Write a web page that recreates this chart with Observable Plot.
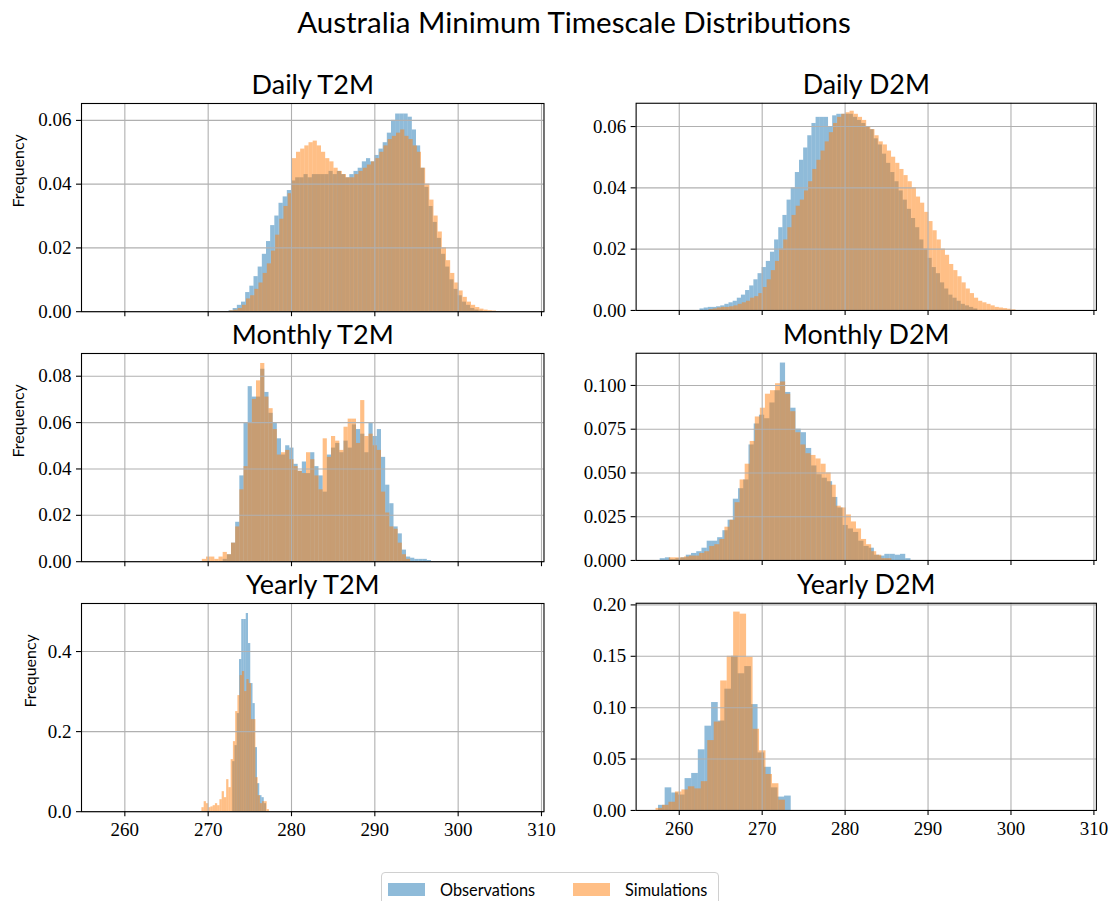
<!DOCTYPE html>
<html>
<head>
<meta charset="utf-8">
<script src="https://cdn.jsdelivr.net/npm/d3@7"></script>
<script src="https://cdn.jsdelivr.net/npm/@observablehq/plot@0.6"></script>
<style>
  html, body { margin: 0; padding: 0; background: #fff; }
  body { width: 1116px; height: 901px; position: relative; overflow: hidden; }
  .panel { position: absolute; }
  #title {
    position: absolute; left: 16px; top: 4px; width: 1116px; text-align: center;
    font-family: Lato, "DejaVu Sans", sans-serif; font-size: 29.5px; color: #000;
  }
  #legend {
    position: absolute; left: 381px; top: 872px; width: 336px; height: 36px;
    border: 1px solid #d0d0d0; border-radius: 4px; background: #fff;
    font-family: Lato, "DejaVu Sans", sans-serif; font-size: 16.3px; color: #000;
  }
  .item { position: absolute; top: 6px; height: 20px; display: flex; align-items: center; }
  .swatch { width: 37px; height: 13px; margin-right: 15px; }
</style>
</head>
<body>
<div id="title">Australia Minimum Timescale Distributions</div>
<div id="legend">
  <div class="item" style="left:6px"><span class="swatch" style="background:rgba(31,119,180,0.5)"></span>Observations</div>
  <div class="item" style="left:191px"><span class="swatch" style="background:rgba(255,127,14,0.5)"></span>Simulations</div>
</div>
<script>
// Histogram bins: each series is a left edge, a bin width and the frequency per bin.

// Daily T2M
const dailyT2mObsStart = 272.5, dailyT2mObsWidth = 0.5;
const dailyT2mObs = [
  0.0003, 0.001, 0.002, 0.003, 0.006, 0.008, 0.011, 0.014, 0.018, 0.022,
  0.027, 0.030, 0.034, 0.036, 0.038, 0.041, 0.042, 0.042, 0.043, 0.042,
  0.043, 0.043, 0.043, 0.043, 0.044, 0.043, 0.044, 0.043, 0.042, 0.043,
  0.044, 0.045, 0.047, 0.048, 0.047, 0.049, 0.051, 0.053, 0.056, 0.060,
  0.062, 0.062, 0.062, 0.061, 0.057, 0.052, 0.045, 0.039, 0.033, 0.028,
  0.023, 0.018, 0.014, 0.010, 0.007, 0.005, 0.003, 0.002, 0.001, 0.0005,
  0.0002
];
const dailyT2mSimStart = 272.6, dailyT2mSimWidth = 0.5;
const dailyT2mSim = [
  0.0003, 0.0005, 0.001, 0.002, 0.004, 0.005, 0.007, 0.009, 0.012, 0.015,
  0.019, 0.024, 0.029, 0.033, 0.037, 0.048, 0.050, 0.051, 0.052, 0.053,
  0.0535, 0.052, 0.050, 0.048, 0.047, 0.045, 0.044, 0.043, 0.042, 0.042,
  0.043, 0.044, 0.045, 0.046, 0.047, 0.048, 0.050, 0.052, 0.054, 0.055,
  0.056, 0.057, 0.055, 0.054, 0.052, 0.050, 0.045, 0.040, 0.035, 0.030,
  0.025, 0.020, 0.016, 0.012, 0.009, 0.0065, 0.0045, 0.003, 0.002, 0.0013,
  0.0008, 0.0005, 0.0003, 0.0002
];

// Daily D2M
const dailyD2mObsStart = 262.5, dailyD2mObsWidth = 0.5;
const dailyD2mObs = [
  0.0005, 0.0008, 0.001, 0.001, 0.0012, 0.0015, 0.002, 0.0025, 0.003, 0.004,
  0.005, 0.0065, 0.008, 0.010, 0.012, 0.014, 0.016, 0.019, 0.023, 0.027,
  0.031, 0.036, 0.040, 0.045, 0.049, 0.053, 0.057, 0.061, 0.063, 0.063,
  0.063, 0.060, 0.0635, 0.064, 0.064, 0.064, 0.064, 0.063, 0.062, 0.061,
  0.060, 0.059, 0.056, 0.054, 0.051, 0.048, 0.045, 0.042, 0.039, 0.036,
  0.033, 0.030, 0.027, 0.023, 0.020, 0.017, 0.014, 0.012, 0.009, 0.007,
  0.005, 0.004, 0.003, 0.002, 0.0015, 0.001, 0.0005
];
const dailyD2mSimStart = 263.6, dailyD2mSimWidth = 0.5;
const dailyD2mSim = [
  0.0003, 0.0005, 0.0008, 0.001, 0.001, 0.0012, 0.0015, 0.002, 0.0025, 0.003,
  0.004, 0.0045, 0.0055, 0.0075, 0.010, 0.013, 0.016, 0.020, 0.023, 0.027,
  0.031, 0.034, 0.036, 0.039, 0.042, 0.046, 0.049, 0.052, 0.055, 0.058,
  0.061, 0.063, 0.064, 0.0645, 0.065, 0.064, 0.063, 0.062, 0.060, 0.059,
  0.057, 0.055, 0.054, 0.052, 0.050, 0.048, 0.046, 0.044, 0.042, 0.040,
  0.037, 0.035, 0.032, 0.029, 0.026, 0.023, 0.020, 0.018, 0.015, 0.013,
  0.011, 0.009, 0.007, 0.0055, 0.004, 0.003, 0.0025, 0.002, 0.0015, 0.001,
  0.0008, 0.0006, 0.0004, 0.0002
];

// Monthly T2M
const monthlyT2mObsStart = 271.8, monthlyT2mObsWidth = 0.5;
const monthlyT2mObs = [
  0.001, 0.003, 0.008, 0.017, 0.037, 0.060, 0.0755, 0.071, 0.071, 0.083,
  0.073, 0.064, 0.060, 0.053, 0.046, 0.050, 0.049, 0.042, 0.039, 0.043,
  0.038, 0.047, 0.041, 0.037, 0.030, 0.046, 0.049, 0.051, 0.047, 0.052,
  0.049, 0.059, 0.057, 0.055, 0.047, 0.060, 0.054, 0.057, 0.045, 0.033,
  0.025, 0.015, 0.012, 0.005, 0.002, 0.0015, 0.001, 0.001, 0.001, 0.0005
];
const monthlyT2mSimStart = 269.3, monthlyT2mSimWidth = 0.5;
const monthlyT2mSim = [
  0.001, 0.002, 0.002, 0.001, 0.002, 0.004, 0.003, 0.008, 0.015, 0.031,
  0.041, 0.060, 0.070, 0.078, 0.0855, 0.071, 0.066, 0.057, 0.046, 0.047,
  0.048, 0.044, 0.041, 0.039, 0.038, 0.047, 0.044, 0.037, 0.031, 0.053,
  0.045, 0.054, 0.052, 0.048, 0.058, 0.0615, 0.0615, 0.051, 0.0695, 0.054,
  0.055, 0.050, 0.048, 0.030, 0.021, 0.015, 0.014, 0.008, 0.003, 0.001
];

// Monthly D2M
const monthlyD2mObsStart = 257.7, monthlyD2mObsWidth = 0.63;
const monthlyD2mObs = [
  0.001, 0.0015, 0.0005, 0.001, 0.0015, 0.003, 0.004, 0.005, 0.007, 0.011,
  0.011, 0.013, 0.017, 0.023, 0.035, 0.041, 0.046, 0.066, 0.078, 0.083,
  0.081, 0.090, 0.097, 0.1128, 0.096, 0.087, 0.075, 0.073, 0.064, 0.054,
  0.049, 0.047, 0.045, 0.036, 0.030, 0.020, 0.018, 0.016, 0.011, 0.008,
  0.007, 0.003, 0.0025, 0.0035, 0.0035, 0.003, 0.0035, 0.001
];
const monthlyD2mSimStart = 258.8, monthlyD2mSimWidth = 0.61;
const monthlyD2mSim = [
  0.0015, 0.0015, 0.0015, 0.002, 0.0025, 0.0025, 0.004, 0.005, 0.008, 0.009,
  0.012, 0.019, 0.023, 0.033, 0.046, 0.055, 0.068, 0.082, 0.087, 0.095,
  0.097, 0.101, 0.102, 0.095, 0.085, 0.073, 0.066, 0.061, 0.060, 0.058,
  0.055, 0.050, 0.043, 0.031, 0.030, 0.026, 0.022, 0.018, 0.012, 0.009,
  0.005, 0.003, 0.001, 0.001
];

// Yearly T2M
const yearlyT2mObsStart = 272.95, yearlyT2mObsWidth = 0.27;
const yearlyT2mObs = [
  0.125, 0.165, 0.245, 0.38, 0.48, 0.48, 0.495, 0.42, 0.32, 0.27,
  0.16, 0.07, 0.04, 0.035, 0.02
];
const yearlyT2mSimStart = 269.25, yearlyT2mSimWidth = 0.27;
const yearlyT2mSim = [
  0.01, 0.025, 0.02, 0.01, 0.012, 0.015, 0.02, 0.015, 0.03, 0.05,
  0.035, 0.08, 0.06, 0.13, 0.175, 0.25, 0.29, 0.34, 0.35, 0.30,
  0.33, 0.32, 0.23, 0.23, 0.085, 0.04, 0.02, 0.025, 0.025, 0.005
];

// Yearly D2M
const yearlyD2mObsStart = 257.5, yearlyD2mObsWidth = 0.8;
const yearlyD2mObs = [
  0.005, 0.022, 0.017, 0.015, 0.031, 0.036, 0.059, 0.082, 0.105, 0.087,
  0.118, 0.150, 0.133, 0.140, 0.103, 0.056, 0.042, 0.022, 0.013, 0.014
];
const yearlyD2mSimStart = 257.2, yearlyD2mSimWidth = 0.78;
const yearlyD2mSim = [
  0.002, 0.005, 0.008, 0.018, 0.020, 0.023, 0.021, 0.028, 0.068, 0.086,
  0.126, 0.150, 0.193, 0.191, 0.149, 0.079, 0.058, 0.035, 0.026, 0.010
];

// Axis ticks
const xTicks = [260, 270, 280, 290, 300, 310];
const xDomain = [254.8, 310.3];

function toBins(start, width, values) {
  return values.map((v, i) => ({x1: start + i * width, x2: start + (i + 1) * width, y: v}));
}

const SERIF = "'Liberation Serif', 'DejaVu Serif', serif";
const SANS = "Lato, 'DejaVu Sans', sans-serif";
const M = {top: 50, right: 20, bottom: 40, left: 80};
const FRAME_W = 462.5, FRAME_H = 208.2;
const colLeft = [80.7, 636.2];
const rowTop = [102.5, 352.6, 602.6];

const panels = [
  {title: "Daily T2M", row: 0, col: 0, obs: toBins(dailyT2mObsStart, dailyT2mObsWidth, dailyT2mObs),
   sim: toBins(dailyT2mSimStart, dailyT2mSimWidth, dailyT2mSim), yMax: 0.0653,
   yTicks: [0, 0.02, 0.04, 0.06], fmt: d3.format(".2f"), ylabelDx: -63},
  {title: "Daily D2M", row: 0, col: 1, obs: toBins(dailyD2mObsStart, dailyD2mObsWidth, dailyD2mObs),
   sim: toBins(dailyD2mSimStart, dailyD2mSimWidth, dailyD2mSim), yMax: 0.0676,
   yTicks: [0, 0.02, 0.04, 0.06], fmt: d3.format(".2f")},
  {title: "Monthly T2M", row: 1, col: 0, obs: toBins(monthlyT2mObsStart, monthlyT2mObsWidth, monthlyT2mObs),
   sim: toBins(monthlyT2mSimStart, monthlyT2mSimWidth, monthlyT2mSim), yMax: 0.0898,
   yTicks: [0, 0.02, 0.04, 0.06, 0.08], fmt: d3.format(".2f"), ylabelDx: -63},
  {title: "Monthly D2M", row: 1, col: 1, obs: toBins(monthlyD2mObsStart, monthlyD2mObsWidth, monthlyD2mObs),
   sim: toBins(monthlyD2mSimStart, monthlyD2mSimWidth, monthlyD2mSim), yMax: 0.1184,
   yTicks: [0, 0.025, 0.05, 0.075, 0.1], fmt: d3.format(".3f")},
  {title: "Yearly T2M", row: 2, col: 0, obs: toBins(yearlyT2mObsStart, yearlyT2mObsWidth, yearlyT2mObs),
   sim: toBins(yearlyT2mSimStart, yearlyT2mSimWidth, yearlyT2mSim), yMax: 0.52,
   yTicks: [0, 0.2, 0.4], fmt: d3.format(".1f"), ylabelDx: -51},
  {title: "Yearly D2M", row: 2, col: 1, obs: toBins(yearlyD2mObsStart, yearlyD2mObsWidth, yearlyD2mObs),
   sim: toBins(yearlyD2mSimStart, yearlyD2mSimWidth, yearlyD2mSim), yMax: 0.2016,
   yTicks: [0, 0.05, 0.1, 0.15, 0.2], fmt: d3.format(".2f")}
];

for (const p of panels) {
  const showX = p.row === 2;
  const chart = Plot.plot({
    width: M.left + FRAME_W + M.right,
    height: M.top + FRAME_H + M.bottom,
    marginTop: M.top, marginRight: M.right, marginBottom: M.bottom, marginLeft: M.left,
    x: {domain: xDomain},
    y: {domain: [0, p.yMax]},
    style: {fontFamily: SERIF, fontSize: "19px", color: "#000", background: "transparent", overflow: "visible"},
    marks: [
      Plot.rect(p.obs, {x1: "x1", x2: "x2", y1: 0, y2: "y", fill: "#1f77b4", fillOpacity: 0.5, inset: 0}),
      Plot.rect(p.sim, {x1: "x1", x2: "x2", y1: 0, y2: "y", fill: "#ff7f0e", fillOpacity: 0.5, inset: 0}),
      Plot.gridX({ticks: xTicks, stroke: "#b0b0b0", strokeOpacity: 1, strokeWidth: 1.1}),
      Plot.gridY({ticks: p.yTicks, stroke: "#b0b0b0", strokeOpacity: 1, strokeWidth: 1.1}),
      Plot.frame({stroke: "#000", strokeWidth: 1.1}),
      Plot.axisX({ticks: xTicks, tickSize: 5, tickPadding: 6, strokeWidth: 1.1,
                  tickFormat: showX ? (d) => String(d) : () => "", label: null}),
      Plot.axisY({ticks: p.yTicks, tickSize: 5, tickPadding: 5, strokeWidth: 1.1,
                  tickFormat: p.fmt, label: null}),
      Plot.text([p.title], {frameAnchor: "top", dy: -9, lineAnchor: "bottom",
                            fontFamily: SANS, fontSize: 27}),
      p.ylabelDx !== undefined
        ? Plot.text(["Frequency"], {frameAnchor: "left", rotate: -90, dx: p.ylabelDx,
                                    fontFamily: SANS, fontSize: 16})
        : null
    ]
  });
  const holder = document.createElement("div");
  holder.className = "panel";
  holder.style.left = (colLeft[p.col] - M.left) + "px";
  holder.style.top = (rowTop[p.row] - M.top) + "px";
  holder.appendChild(chart);
  document.body.appendChild(holder);
}
</script>
</body>
</html>
